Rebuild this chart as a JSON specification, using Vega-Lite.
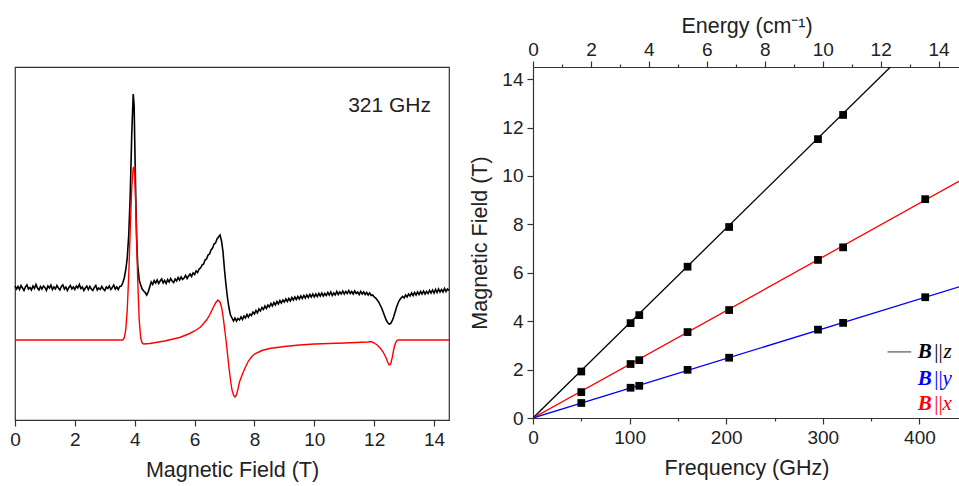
{
 "$schema": "https://vega.github.io/schema/vega-lite/v6.json",
 "padding": {"left": 9, "top": 15, "right": 0, "bottom": 0},
 "background": "white",
 "spacing": 84,
 "bounds": "flush",
 "config": {
  "axis": {"labelFont": "Liberation Sans", "titleFont": "Liberation Sans", "labelFontSize": 19, "titleFontSize": 21.5, "titleFontWeight": "normal", "labelColor": "#222", "titleColor": "#222", "domainColor": "#333", "tickColor": "#333", "domainWidth": 1.2, "tickWidth": 1.2, "grid": false, "labelPadding": 4, "titlePadding": 10, "labelFlush": false, "labelOverlap": false}
 },
 "datasets": {
  "black": [
   {"T":0.00,"v":134},{"T":0.05,"v":131},{"T":0.10,"v":133.5},{"T":0.15,"v":130.5},{"T":0.20,"v":134.5},{"T":0.25,"v":132},{"T":0.30,"v":129.5},{"T":0.35,"v":133},{"T":0.40,"v":135},{"T":0.45,"v":131},
   {"T":0.50,"v":132.5},{"T":0.55,"v":130},{"T":0.60,"v":134},{"T":0.65,"v":131.5},{"T":0.70,"v":135.5},{"T":0.75,"v":132},{"T":0.80,"v":130},{"T":0.85,"v":133.5},{"T":0.90,"v":131},{"T":0.95,"v":134},
   {"T":1.00,"v":132.5},{"T":1.05,"v":129.5},{"T":1.10,"v":134},{"T":1.15,"v":132},{"T":1.20,"v":135},{"T":1.25,"v":130.5},{"T":1.30,"v":133},{"T":1.35,"v":131},{"T":1.40,"v":134.5},{"T":1.45,"v":132},
   {"T":1.50,"v":130},{"T":1.55,"v":133.5},{"T":1.60,"v":135},{"T":1.65,"v":131},{"T":1.70,"v":133},{"T":1.75,"v":129.5},{"T":1.80,"v":132.5},{"T":1.85,"v":134.5},{"T":1.90,"v":131},{"T":1.95,"v":133},
   {"T":2.00,"v":130.5},{"T":2.05,"v":134},{"T":2.10,"v":132},{"T":2.15,"v":135.5},{"T":2.20,"v":131.5},{"T":2.25,"v":133},{"T":2.30,"v":129.5},{"T":2.35,"v":132},{"T":2.40,"v":134},{"T":2.45,"v":130.5},
   {"T":2.50,"v":133.5},{"T":2.55,"v":131},{"T":2.60,"v":129.5},{"T":2.65,"v":132.5},{"T":2.70,"v":134.5},{"T":2.75,"v":130},{"T":2.80,"v":132},{"T":2.85,"v":130.5},{"T":2.90,"v":133.5},{"T":2.95,"v":131},
   {"T":3.00,"v":129.5},{"T":3.05,"v":133},{"T":3.10,"v":131.5},{"T":3.15,"v":134},{"T":3.20,"v":130.5},{"T":3.25,"v":132.5},{"T":3.30,"v":135},{"T":3.35,"v":131},{"T":3.40,"v":133},{"T":3.45,"v":130.5},
   {"T":3.50,"v":133.5},{"T":3.55,"v":134},{"T":3.60,"v":137},{"T":3.65,"v":142},{"T":3.70,"v":150},{"T":3.75,"v":162},{"T":3.80,"v":185},{"T":3.85,"v":225},{"T":3.90,"v":285},{"T":3.95,"v":326},
   {"T":3.98,"v":315},{"T":4.00,"v":280},{"T":4.03,"v":230},{"T":4.06,"v":185},{"T":4.10,"v":155},{"T":4.15,"v":140},{"T":4.20,"v":135},{"T":4.25,"v":131},{"T":4.30,"v":129},{"T":4.35,"v":127.5},
   {"T":4.40,"v":125},{"T":4.45,"v":128},{"T":4.50,"v":133},{"T":4.55,"v":138},{"T":4.60,"v":135.5},{"T":4.65,"v":139.5},{"T":4.70,"v":137},{"T":4.75,"v":140},{"T":4.80,"v":136.5},{"T":4.85,"v":139},
   {"T":4.90,"v":141},{"T":4.95,"v":137},{"T":5.00,"v":139.5},{"T":5.05,"v":136.5},{"T":5.10,"v":140.5},{"T":5.15,"v":138},{"T":5.20,"v":141.5},{"T":5.25,"v":139},{"T":5.30,"v":137.5},{"T":5.35,"v":141},
   {"T":5.40,"v":139},{"T":5.45,"v":142.5},{"T":5.50,"v":140},{"T":5.55,"v":143},{"T":5.60,"v":140.5},{"T":5.65,"v":142},{"T":5.70,"v":144.5},{"T":5.75,"v":141.5},{"T":5.80,"v":144},{"T":5.85,"v":146},
   {"T":5.90,"v":143.5},{"T":5.95,"v":147},{"T":6.00,"v":145.5},{"T":6.05,"v":149},{"T":6.10,"v":147.5},{"T":6.15,"v":151},{"T":6.20,"v":152},{"T":6.25,"v":155},{"T":6.30,"v":156},{"T":6.35,"v":160},
   {"T":6.40,"v":161},{"T":6.45,"v":165},{"T":6.50,"v":166},{"T":6.55,"v":170},{"T":6.60,"v":172},{"T":6.65,"v":176},{"T":6.70,"v":177},{"T":6.75,"v":181},{"T":6.80,"v":183},{"T":6.85,"v":185},
   {"T":6.90,"v":179},{"T":6.95,"v":168},{"T":7.00,"v":150},{"T":7.05,"v":135},{"T":7.10,"v":122},{"T":7.15,"v":112},{"T":7.20,"v":105},{"T":7.25,"v":102},{"T":7.30,"v":99},{"T":7.35,"v":102},
   {"T":7.40,"v":99},{"T":7.45,"v":101.5},{"T":7.50,"v":100},{"T":7.55,"v":103},{"T":7.60,"v":100.5},{"T":7.65,"v":104},{"T":7.70,"v":102},{"T":7.75,"v":105.5},{"T":7.80,"v":103},{"T":7.85,"v":106},
   {"T":7.90,"v":104.5},{"T":7.95,"v":108},{"T":8.00,"v":106},{"T":8.05,"v":109.5},{"T":8.10,"v":107},{"T":8.15,"v":111},{"T":8.20,"v":109},{"T":8.25,"v":112.5},{"T":8.30,"v":110.5},{"T":8.35,"v":114},
   {"T":8.40,"v":111.5},{"T":8.45,"v":115},{"T":8.50,"v":113},{"T":8.55,"v":116.5},{"T":8.60,"v":114},{"T":8.65,"v":117.5},{"T":8.70,"v":115},{"T":8.75,"v":118.5},{"T":8.80,"v":116},{"T":8.85,"v":119.5},
   {"T":8.90,"v":117},{"T":8.95,"v":120},{"T":9.00,"v":118},{"T":9.05,"v":121},{"T":9.10,"v":118.5},{"T":9.15,"v":121.5},{"T":9.20,"v":119},{"T":9.25,"v":122.5},{"T":9.30,"v":120},{"T":9.35,"v":123},
   {"T":9.40,"v":120.5},{"T":9.45,"v":123.5},{"T":9.50,"v":121},{"T":9.55,"v":124},{"T":9.60,"v":121.5},{"T":9.65,"v":124.5},{"T":9.70,"v":122},{"T":9.75,"v":125},{"T":9.80,"v":122.5},{"T":9.85,"v":125.5},
   {"T":9.90,"v":123},{"T":9.95,"v":126},{"T":10.00,"v":123},{"T":10.05,"v":126},{"T":10.10,"v":123.5},{"T":10.15,"v":126.5},{"T":10.20,"v":124},{"T":10.25,"v":127},{"T":10.30,"v":124},{"T":10.35,"v":126.5},
   {"T":10.40,"v":124.5},{"T":10.45,"v":127.5},{"T":10.50,"v":125},{"T":10.55,"v":128},{"T":10.60,"v":124.5},{"T":10.65,"v":127},{"T":10.70,"v":125},{"T":10.75,"v":128.5},{"T":10.80,"v":125.5},{"T":10.85,"v":128},
   {"T":10.90,"v":126},{"T":10.95,"v":129},{"T":11.00,"v":126},{"T":11.05,"v":128.5},{"T":11.10,"v":126.5},{"T":11.15,"v":129.5},{"T":11.20,"v":126.5},{"T":11.25,"v":128.5},{"T":11.30,"v":126},{"T":11.35,"v":129},
   {"T":11.40,"v":126.5},{"T":11.45,"v":128},{"T":11.50,"v":125.5},{"T":11.55,"v":128.5},{"T":11.60,"v":126},{"T":11.65,"v":128},{"T":11.70,"v":125.5},{"T":11.75,"v":127.5},{"T":11.80,"v":125},{"T":11.85,"v":127},
   {"T":11.90,"v":124.5},{"T":11.95,"v":125},{"T":12.00,"v":123},{"T":12.05,"v":122},{"T":12.10,"v":120},{"T":12.15,"v":118},{"T":12.20,"v":115},{"T":12.25,"v":112},{"T":12.30,"v":108},{"T":12.35,"v":104},
   {"T":12.40,"v":100},{"T":12.45,"v":97.5},{"T":12.50,"v":96},{"T":12.55,"v":96.5},{"T":12.60,"v":99},{"T":12.65,"v":103},{"T":12.70,"v":108},{"T":12.75,"v":113},{"T":12.80,"v":117},{"T":12.85,"v":120},
   {"T":12.90,"v":122},{"T":12.95,"v":123.5},{"T":13.00,"v":122},{"T":13.05,"v":125},{"T":13.10,"v":123},{"T":13.15,"v":126},{"T":13.20,"v":124},{"T":13.25,"v":127},{"T":13.30,"v":124.5},{"T":13.35,"v":127.5},
   {"T":13.40,"v":125},{"T":13.45,"v":128},{"T":13.50,"v":125.5},{"T":13.55,"v":128.5},{"T":13.60,"v":126},{"T":13.65,"v":129},{"T":13.70,"v":126},{"T":13.75,"v":128.5},{"T":13.80,"v":126.5},{"T":13.85,"v":129.5},
   {"T":13.90,"v":127},{"T":13.95,"v":130},{"T":14.00,"v":127},{"T":14.05,"v":130.5},{"T":14.10,"v":127.5},{"T":14.15,"v":131},{"T":14.20,"v":128},{"T":14.25,"v":130.5},{"T":14.30,"v":128},{"T":14.35,"v":131.5},
   {"T":14.40,"v":128.5},{"T":14.45,"v":131},{"T":14.50,"v":129.5}
  ],
  "red": [
   {"T":0,"v":80},{"T":3.6,"v":80},{"T":3.65,"v":82},{"T":3.7,"v":90},{"T":3.75,"v":110},{"T":3.8,"v":145},{"T":3.85,"v":190},{"T":3.9,"v":232},{"T":3.95,"v":252},{"T":3.98,"v":253},
   {"T":4.0,"v":245},{"T":4.05,"v":200},{"T":4.1,"v":140},{"T":4.15,"v":100},{"T":4.2,"v":82},{"T":4.25,"v":77},{"T":4.3,"v":76},{"T":4.5,"v":76.5},{"T":5.0,"v":79},{"T":5.5,"v":82.5},
   {"T":5.8,"v":86},{"T":6.0,"v":89},{"T":6.2,"v":93},{"T":6.4,"v":100},{"T":6.5,"v":105},{"T":6.6,"v":111},{"T":6.7,"v":117},{"T":6.78,"v":120},{"T":6.85,"v":118},{"T":6.9,"v":113},
   {"T":6.95,"v":104},{"T":7.0,"v":92},{"T":7.05,"v":80},{"T":7.1,"v":66},{"T":7.15,"v":52},{"T":7.2,"v":40},{"T":7.25,"v":30},{"T":7.3,"v":25},{"T":7.35,"v":23},{"T":7.4,"v":25},
   {"T":7.45,"v":31},{"T":7.5,"v":38},{"T":7.6,"v":46},{"T":7.7,"v":53},{"T":7.8,"v":59},{"T":7.9,"v":63},{"T":8.0,"v":66},{"T":8.25,"v":69.5},{"T":8.5,"v":71.5},{"T":9.0,"v":73.5},
   {"T":9.5,"v":75},{"T":10.0,"v":76},{"T":11.0,"v":77},{"T":11.8,"v":78},{"T":11.9,"v":78.5},{"T":12.0,"v":77},{"T":12.1,"v":75},{"T":12.2,"v":72},{"T":12.3,"v":68},{"T":12.4,"v":62},
   {"T":12.45,"v":58},{"T":12.5,"v":55},{"T":12.55,"v":56},{"T":12.6,"v":62},{"T":12.65,"v":70},{"T":12.7,"v":76},{"T":12.75,"v":79},{"T":12.8,"v":80},{"T":14.5,"v":80}
  ],
  "fit": [
   {"s":"z","f":0,"B":0},{"s":"z","f":370,"B":14.5},
   {"s":"x","f":0,"B":0},{"s":"x","f":442,"B":9.8},
   {"s":"y","f":0,"B":0},{"s":"y","f":442,"B":5.43}
  ],
  "pts": [
   {"s":"z","f":50,"B":1.92},{"s":"z","f":101,"B":3.92},{"s":"z","f":110,"B":4.25},{"s":"z","f":160,"B":6.25},{"s":"z","f":203,"B":7.89},{"s":"z","f":295,"B":11.52},{"s":"z","f":321,"B":12.52},
   {"s":"x","f":50,"B":1.07},{"s":"x","f":101,"B":2.23},{"s":"x","f":110,"B":2.39},{"s":"x","f":160,"B":3.55},{"s":"x","f":203,"B":4.46},{"s":"x","f":295,"B":6.53},{"s":"x","f":321,"B":7.05},{"s":"x","f":406,"B":9.04},
   {"s":"y","f":50,"B":0.62},{"s":"y","f":101,"B":1.25},{"s":"y","f":110,"B":1.33},{"s":"y","f":160,"B":1.99},{"s":"y","f":203,"B":2.49},{"s":"y","f":295,"B":3.65},{"s":"y","f":321,"B":3.93},{"s":"y","f":406,"B":4.99}
  ],
  "leg": [
   {"s":"z","f":433.5,"B":2.73},{"s":"y","f":433.5,"B":1.61},{"s":"x","f":433.5,"B":0.58}
  ]
 },
 "hconcat": [
  {
   "width": 434,
   "height": 353,
   "view": {"stroke": "#333", "strokeWidth": 1.2},
   "layer": [
    {
     "data": {"name": "black"},
     "mark": {"type": "line", "color": "#000", "strokeWidth": 1.6},
     "encoding": {
      "x": {"field": "T", "type": "quantitative", "scale": {"domain": [0, 14.5], "nice": false, "zero": false},
            "axis": {"title": "Magnetic Field (T)", "values": [0,1,2,3,4,5,6,7,8,9,10,11,12,13,14],
                     "labelExpr": "datum.value % 2 === 0 ? datum.label : ''",
                     "tickSize": {"condition": {"test": "datum.value % 2 === 0", "value": 6}, "value": 3}}},
      "y": {"field": "v", "type": "quantitative", "scale": {"domain": [0, 353], "nice": false, "zero": false}, "axis": null}
     }
    },
    {
     "data": {"name": "red"},
     "mark": {"type": "line", "color": "#ff0000", "strokeWidth": 1.4},
     "encoding": {
      "x": {"field": "T", "type": "quantitative"},
      "y": {"field": "v", "type": "quantitative"}
     }
    },
    {
     "data": {"values": [{"T": 13.9, "v": 314, "label": "321 GHz"}]},
     "mark": {"type": "text", "align": "right", "baseline": "middle", "fontSize": 21, "font": "Liberation Sans", "color": "#222"},
     "encoding": {
      "x": {"field": "T", "type": "quantitative"},
      "y": {"field": "v", "type": "quantitative"},
      "text": {"field": "label"}
     }
    }
   ]
  },
  {
   "width": 427,
   "height": 351,
   "view": {"stroke": null},
   "layer": [
    {
     "layer": [
      {
       "data": {"name": "fit"},
       "mark": {"type": "line", "strokeWidth": 1.3, "clip": true},
       "encoding": {
        "x": {"field": "f", "type": "quantitative", "scale": {"domain": [0, 442], "nice": false, "zero": false},
              "axis": {"title": "Frequency (GHz)", "values": [0,50,100,150,200,250,300,350,400],
                       "labelExpr": "datum.value % 100 === 0 ? datum.label : ''",
                       "tickSize": {"condition": {"test": "datum.value % 100 === 0", "value": 6}, "value": 3}}},
        "y": {"field": "B", "type": "quantitative", "scale": {"domain": [0, 14.5], "nice": false, "zero": false},
              "axis": {"title": "Magnetic Field (T)", "values": [0,1,2,3,4,5,6,7,8,9,10,11,12,13,14],
                       "labelExpr": "datum.value % 2 === 0 ? datum.label : ''",
                       "tickSize": {"condition": {"test": "datum.value % 2 === 0", "value": 6}, "value": 3}}},
        "color": {"field": "s", "type": "nominal", "scale": {"domain": ["z", "x", "y"], "range": ["#000000", "#ff0000", "#0000ff"]}, "legend": null},
        "detail": {"field": "s"}
       }
      },
      {
       "data": {"name": "pts"},
       "mark": {"type": "square", "filled": true, "size": 60, "color": "#000", "opacity": 1},
       "encoding": {
        "x": {"field": "f", "type": "quantitative"},
        "y": {"field": "B", "type": "quantitative"}
       }
      },
      {
       "data": {"values": [{"f": 367, "f2": 391.5, "B": 2.73}]},
       "mark": {"type": "rule", "color": "#555", "strokeWidth": 1.2},
       "encoding": {
        "x": {"field": "f", "type": "quantitative"},
        "x2": {"field": "f2"},
        "y": {"field": "B", "type": "quantitative"}
       }
      },
      {
       "data": {"name": "leg"},
       "mark": {"type": "text", "align": "right", "baseline": "middle", "font": "Liberation Serif", "fontSize": 21, "fontStyle": "italic"},
       "encoding": {
        "x": {"field": "f", "type": "quantitative"},
        "y": {"field": "B", "type": "quantitative"},
        "text": {"field": "s"},
        "color": {"field": "s", "type": "nominal", "legend": null}
       }
      },
      {
       "data": {"name": "leg"},
       "mark": {"type": "text", "align": "right", "baseline": "middle", "font": "Liberation Serif", "fontSize": 21, "dx": -9},
       "encoding": {
        "x": {"field": "f", "type": "quantitative"},
        "y": {"field": "B", "type": "quantitative"},
        "text": {"value": "||"},
        "color": {"field": "s", "type": "nominal", "legend": null}
       }
      },
      {
       "data": {"name": "leg"},
       "mark": {"type": "text", "align": "right", "baseline": "middle", "font": "Liberation Serif", "fontSize": 21, "fontStyle": "italic", "fontWeight": "bold", "dx": -20},
       "encoding": {
        "x": {"field": "f", "type": "quantitative"},
        "y": {"field": "B", "type": "quantitative"},
        "text": {"value": "B"},
        "color": {"field": "s", "type": "nominal", "legend": null}
       }
      }
     ]
    },
    {
     "data": {"values": [{"E": 0}, {"E": 14.74}]},
     "mark": {"type": "point", "opacity": 0},
     "encoding": {
      "x": {"field": "E", "type": "quantitative", "scale": {"domain": [0, 14.74], "nice": false, "zero": false},
            "axis": {"orient": "top", "title": "Energy (cm⁻¹)", "labelPadding": 2, "titlePadding": 3, "values": [0,1,2,3,4,5,6,7,8,9,10,11,12,13,14],
                     "labelExpr": "datum.value % 2 === 0 ? datum.label : ''",
                     "tickSize": {"condition": {"test": "datum.value % 2 === 0", "value": 6}, "value": 3}}}
     }
    }
   ],
   "resolve": {"scale": {"x": "independent"}}
  }
 ]
}
